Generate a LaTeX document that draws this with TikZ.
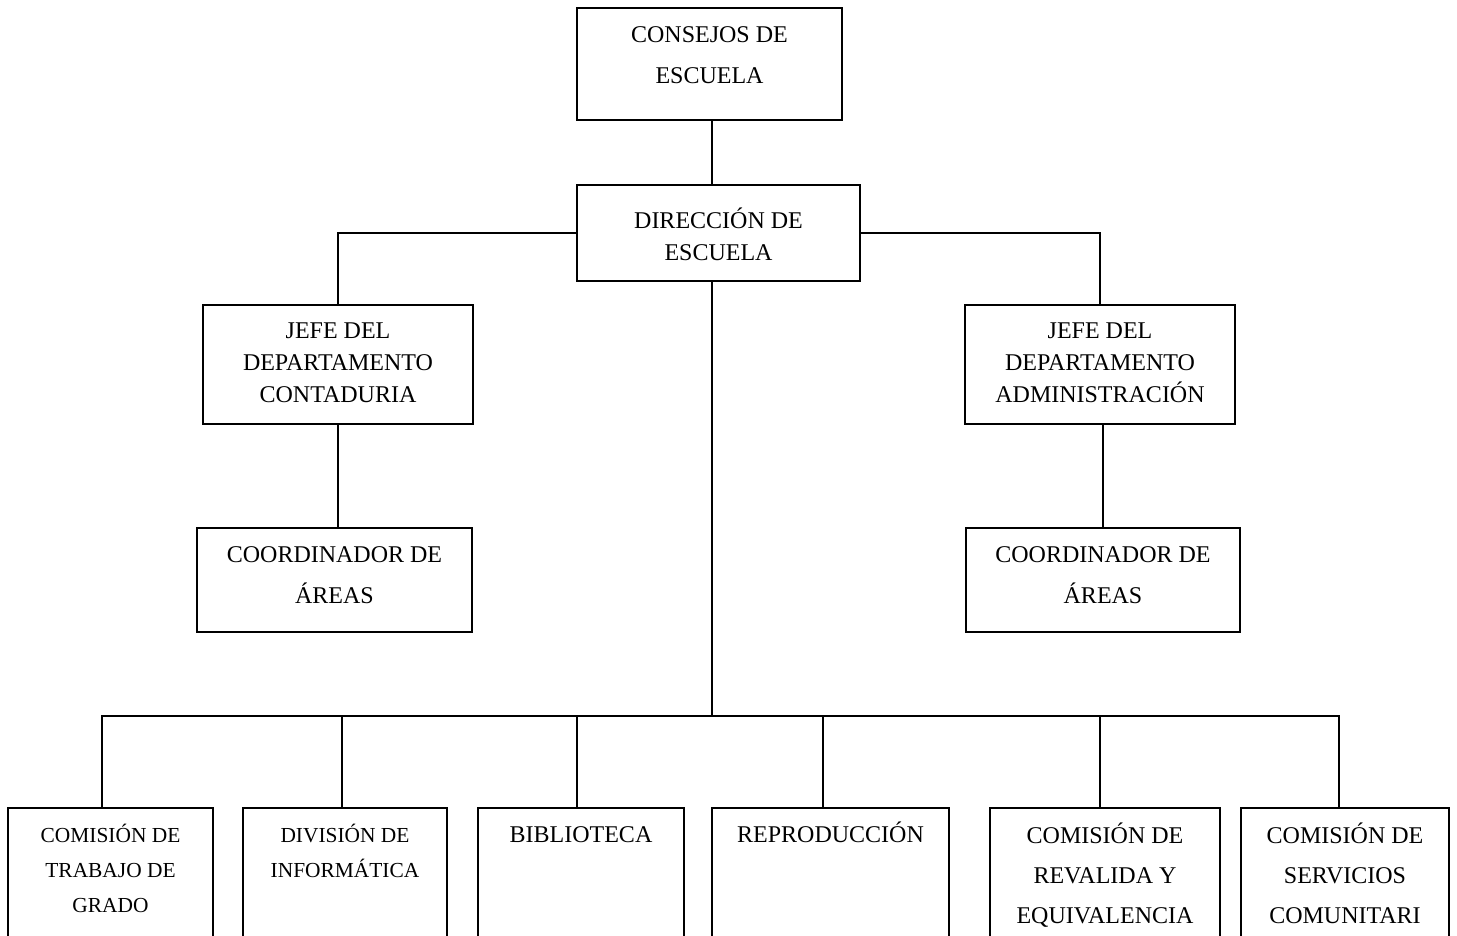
\documentclass[tikz,border=0pt]{standalone}
\usepackage{fontspec}
\setmainfont{Liberation Serif}
\usetikzlibrary{positioning}

\begin{document}
\begin{tikzpicture}[x=0.5pt,y=-0.5pt,line width=0.9pt,
                    box/.style={draw,rectangle,inner sep=0pt,outer sep=0pt},
                    lbl/.style={align=center,inner sep=0pt,font=\fontsize{12}{#1}\selectfont},
                    lbl/.default=20.5,
                    lblsmall/.style={align=center,inner sep=0pt,font=\fontsize{10.7}{17.5}\selectfont}]

  \useasboundingbox (0,0) rectangle (1457,936);
  \clip (0,0) rectangle (1457,936);

  % boxes
  \node[box,minimum width=132.5pt,minimum height=56pt]   (cons)   at (709.5,64)  {};
  \node[box,minimum width=141.5pt,minimum height=48pt]   (dir)    at (718.5,233) {};
  \node[box,minimum width=135pt,minimum height=59.5pt]   (jefec)  at (338,364.5) {};
  \node[box,minimum width=135pt,minimum height=59.5pt]   (jefea)  at (1100,364.5) {};
  \node[box,minimum width=137.5pt,minimum height=52pt]   (coordc) at (334.5,580) {};
  \node[box,minimum width=137pt,minimum height=52pt]     (coorda) at (1103,580)  {};

  \node[box,minimum width=102.5pt,minimum height=100pt]  (b1) at (110.5,908)  {};
  \node[box,minimum width=102pt,minimum height=100pt]    (b2) at (345,908)    {};
  \node[box,minimum width=103pt,minimum height=100pt]    (b3) at (581,908)    {};
  \node[box,minimum width=118.5pt,minimum height=100pt]  (b4) at (830.5,908)  {};
  \node[box,minimum width=115pt,minimum height=100pt]    (b5) at (1105,908)   {};
  \node[box,minimum width=104pt,minimum height=100pt]    (b6) at (1345,908)   {};

  % texts
  \node[lbl,below=5pt of cons.north]     (consT)   {\rule{0pt}{12pt}CONSEJOS DE\\ESCUELA};
  \node[lbl=16,below=9.5pt of dir.north] (dirT)    {\rule{0pt}{12pt}DIRECCIÓN DE\\ESCUELA};
  \node[lbl=16,below=4.5pt of jefec.north] (jefecT) {\rule{0pt}{12pt}JEFE DEL\\DEPARTAMENTO\\CONTADURIA};
  \node[lbl=16,below=4.5pt of jefea.north] (jefeaT) {\rule{0pt}{12pt}JEFE DEL\\DEPARTAMENTO\\ADMINISTRACIÓN};
  \node[lbl,below=5pt of coordc.north]   (coordcT) {\rule{0pt}{12pt}COORDINADOR DE\\ÁREAS};
  \node[lbl,below=5pt of coorda.north]   (coordaT) {\rule{0pt}{12pt}COORDINADOR DE\\ÁREAS};

  \node[lblsmall,below=5pt of b1.north] (b1T) {\rule{0pt}{12pt}COMISIÓN DE\\TRABAJO DE\\GRADO};
  \node[lblsmall,below=5pt of b2.north] (b2T) {\rule{0pt}{12pt}DIVISIÓN DE\\INFORMÁTICA};
  \node[lbl,below=5pt of b3.north]      (b3T) {\rule{0pt}{12pt}BIBLIOTECA};
  \node[lbl,below=5pt of b4.north]      (b4T) {\rule{0pt}{12pt}REPRODUCCIÓN};
  \node[lbl=20,below=5.5pt of b5.north] (b5T) {\rule{0pt}{12pt}COMISIÓN DE\\REVALIDA Y\\EQUIVALENCIA};
  \node[lbl=20,below=5.5pt of b6.north] (b6T) {\rule{0pt}{12pt}COMISIÓN DE\\SERVICIOS\\COMUNITARI};

  % connectors
  \coordinate (spine) at (712,716);
  \coordinate (d1) at (102,716);
  \coordinate (d2) at (342,716);
  \coordinate (d3) at (577,716);
  \coordinate (d4) at (823,716);
  \coordinate (d5) at (1100,716);
  \coordinate (d6) at (1339,716);

  \draw (cons.south -| spine) -- (dir.north -| spine);
  \draw (dir.south -| spine) -- (spine);
  \draw (dir.west) -| (jefec.north);
  \draw (dir.east) -| (jefea.north);
  \draw (jefec.south) -- (jefec.south |- coordc.north);
  \draw (coorda.north |- jefea.south) -- (coorda.north);

  \draw (b1.north -| d1) -- (d1) -- (d6) -- (b6.north -| d6);
  \path (d2) edge (b2.north -| d2)
        (d3) edge (b3.north -| d3)
        (d4) edge (b4.north -| d4)
        (d5) edge (b5.north -| d5);
\end{tikzpicture}
\end{document}
